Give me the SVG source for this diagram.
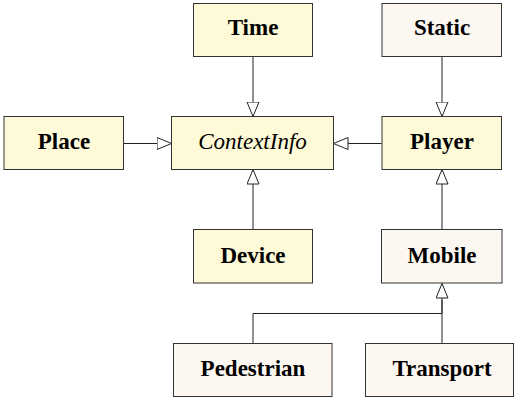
<svg xmlns="http://www.w3.org/2000/svg" width="514" height="405" viewBox="0 0 514 405">
<style>
.box{stroke:#333;stroke-width:1}
.y{fill:#fef9d6}
.p{fill:#fdf7f1}
.t{font-family:"Liberation Serif","Times New Roman",serif;font-size:23px;font-weight:bold;fill:#000;text-anchor:middle}
.i{font-weight:normal;font-style:italic}
.c{fill:none;stroke:#222;stroke-width:1}
</style>
<defs>
<marker id="tri" markerUnits="userSpaceOnUse" markerWidth="16" markerHeight="14" refX="15" refY="6.5" orient="auto">
<path d="M0.5,0.5 L15,6.5 L0.5,12.5 Z" fill="#fff" stroke="#222" stroke-width="1"/>
</marker>
</defs>
<rect width="514" height="405" fill="#fff"/>
<g id="connectors">
<path class="c" d="M253,56.5 V116.5" marker-end="url(#tri)"/>
<path class="c" d="M442,56.5 V116.5" marker-end="url(#tri)"/>
<path class="c" d="M123.5,143.5 H171.5" marker-end="url(#tri)"/>
<path class="c" d="M381.5,143.5 H333.5" marker-end="url(#tri)"/>
<path class="c" d="M253,229.5 V169.5" marker-end="url(#tri)"/>
<path class="c" d="M442,229.5 V169.5" marker-end="url(#tri)"/>
<path class="c" d="M253,343.5 V313.5 H442 V283.5" marker-end="url(#tri)"/>
<path class="c" d="M442,343.5 V300"/>
</g>
<g id="Time"><rect class="box y" x="193.5" y="3.5" width="119" height="53"/><text class="t" x="253" y="35">Time</text></g>
<g id="Static"><rect class="box p" x="382" y="3.5" width="119.5" height="53"/><text class="t" x="442" y="35">Static</text></g>
<g id="Place"><rect class="box y" x="4" y="116.5" width="119.5" height="53"/><text class="t" x="64" y="149">Place</text></g>
<g id="ContextInfo"><rect class="box y" x="171.5" y="116.5" width="162" height="53"/><text class="t i" x="252.5" y="149">ContextInfo</text></g>
<g id="Player"><rect class="box y" x="382" y="116.5" width="119.5" height="53"/><text class="t" x="442" y="149">Player</text></g>
<g id="Device"><rect class="box y" x="193.5" y="229.5" width="119" height="53.5"/><text class="t" x="253" y="262.5">Device</text></g>
<g id="Mobile"><rect class="box p" x="381.5" y="229.5" width="120.5" height="53.5"/><text class="t" x="442" y="262.5">Mobile</text></g>
<g id="Pedestrian"><rect class="box p" x="173.5" y="343.5" width="158.5" height="53"/><text class="t" x="253" y="375.5">Pedestrian</text></g>
<g id="Transport"><rect class="box p" x="365.5" y="343.5" width="148" height="53"/><text class="t" x="442" y="375.5">Transport</text></g>
</svg>
